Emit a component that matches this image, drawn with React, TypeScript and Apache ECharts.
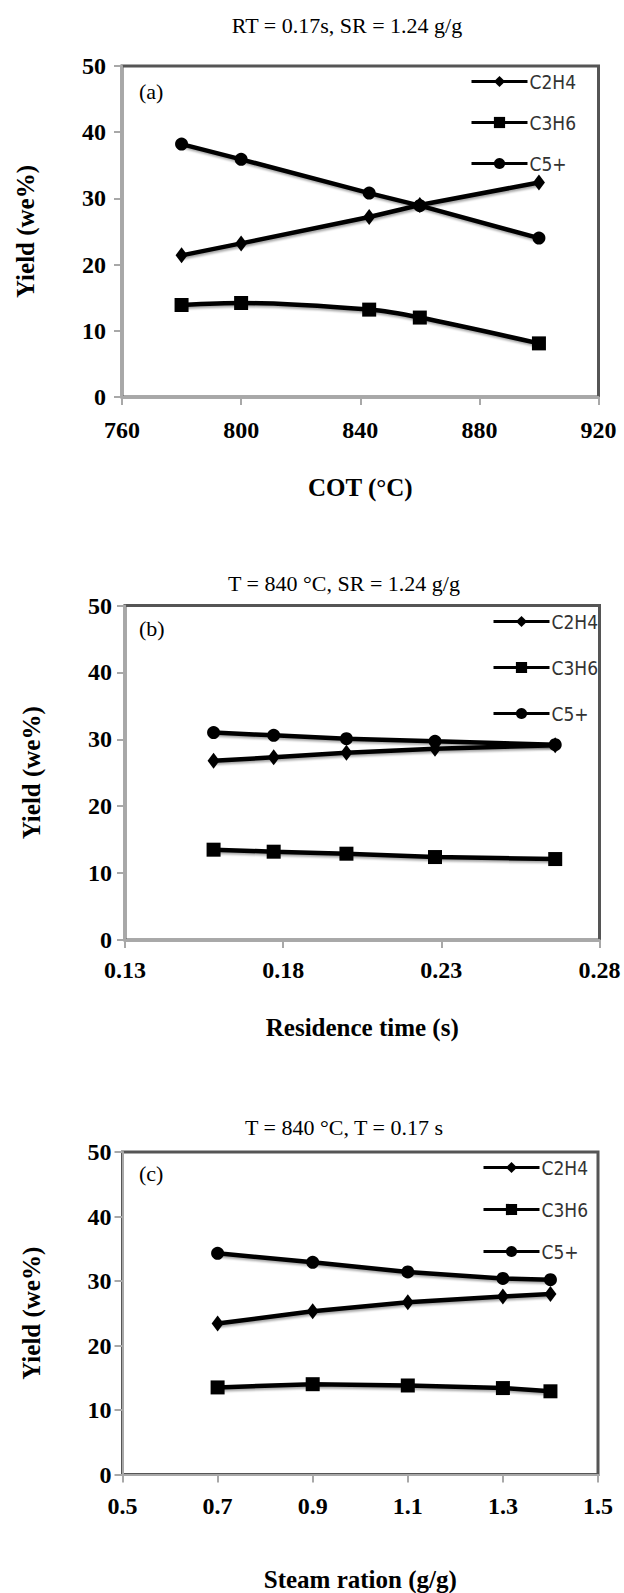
import React, { useEffect, useRef } from "react";
import * as echarts from "echarts";

// ---- Panel (a): COT ----
const cotX = [780, 800, 843, 860, 900];
const cotC2H4 = [21.4, 23.2, 27.2, 29.0, 32.4];
const cotC3H6 = [13.9, 14.2, 13.2, 12.0, 8.1];
const cotC5 = [38.2, 35.9, 30.8, 28.9, 24.0];

// ---- Panel (b): residence time ----
const rtX = [0.158, 0.177, 0.2, 0.228, 0.266];
const rtC2H4 = [26.8, 27.3, 28.0, 28.6, 29.1];
const rtC3H6 = [13.5, 13.2, 12.9, 12.4, 12.1];
const rtC5 = [31.0, 30.6, 30.1, 29.7, 29.2];

// ---- Panel (c): steam ratio ----
const srX = [0.7, 0.9, 1.1, 1.3, 1.4];
const srC2H4 = [23.4, 25.3, 26.7, 27.6, 28.0];
const srC3H6 = [13.5, 14.0, 13.8, 13.4, 12.9];
const srC5 = [34.3, 32.9, 31.4, 30.4, 30.2];

const seriesNames = ["C2H4", "C3H6", "C5+"];
const titles = [
  "RT = 0.17s, SR = 1.24 g/g",
  "T = 840 °C, SR = 1.24 g/g",
  "T = 840 °C, T = 0.17 s",
];
const panelLabels = ["(a)", "(b)", "(c)"];
const xNames = ["COT (°C)", "Residence time (s)", "Steam ration (g/g)"];
const yName = "Yield (we%)";

const SERIF = '"Liberation Serif", "Times New Roman", serif';

const grids = [
  { left: 122, top: 66, width: 476.5, height: 331 },
  { left: 125, top: 605.5, width: 474.5, height: 334.5 },
  { left: 122.5, top: 1152, width: 475.5, height: 325 },
];
const xAxisCfg = [
  { min: 760, max: 920, interval: 40, margin: 21, nameGap: 77.5, dec: 0 },
  { min: 0.13, max: 0.28, interval: 0.05, margin: 18, nameGap: 74.5, dec: 2 },
  { min: 0.5, max: 1.5, interval: 0.2, margin: 19, nameGap: 92.5, dec: 1 },
];
const yCfg = [
  { margin: 16, nameGap: 84.5 },
  { margin: 13, nameGap: 81.5 },
  { margin: 11, nameGap: 79 },
];
const legendCfg = [
  { left: 470, top: 72, gap: 22 },
  { left: 492, top: 612, gap: 27 },
  { left: 482, top: 1158, gap: 23 },
];
const titlePos = [
  { x: 347, y: 25 },
  { x: 344, y: 583 },
  { x: 344, y: 1127 },
];
const labelPos = [
  { x: 139, y: 91 },
  { x: 139, y: 628 },
  { x: 139, y: 1173 },
];

const panelData = [
  { x: cotX, ys: [cotC2H4, cotC3H6, cotC5] },
  { x: rtX, ys: [rtC2H4, rtC3H6, rtC5] },
  { x: srX, ys: [srC2H4, srC3H6, srC5] },
];

const symbols = ["diamond", "rect", "circle"];
const symbolSizes: any[] = [[12, 16], 14, 13];

export default function App() {
  const ref = useRef<HTMLDivElement>(null);
  useEffect(() => {
    document.body.style.margin = "0";
    document.body.style.overflow = "hidden";
    if (!ref.current) return;
    const chart = echarts.init(ref.current, null, { renderer: "svg" });

    const series: any[] = [];
    panelData.forEach((p, gi) => {
      p.ys.forEach((ys, si) => {
        series.push({
          type: "line",
          name: seriesNames[si],
          xAxisIndex: gi,
          yAxisIndex: gi,
          data: p.x.map((xv, i) => [xv, ys[i]]),
          symbol: symbols[si],
          symbolSize: symbolSizes[si],
          smooth: gi === 0 && si === 1 ? 0.3 : false,
          color: "#000",
          lineStyle: {
            color: "#000",
            width: 4.5,
            shadowColor: "rgba(0,0,0,0.35)",
            shadowOffsetX: 1,
            shadowOffsetY: 2,
            shadowBlur: 2,
          },
          itemStyle: { color: "#000" },
          z: 3,
        });
      });
    });

    const graphic: any[] = [];
    titles.forEach((t, i) => {
      graphic.push({
        type: "text",
        x: titlePos[i].x,
        y: titlePos[i].y,
        style: {
          text: t,
          fontFamily: SERIF,
          fontSize: 22,
          fill: "#000",
          align: "center",
          verticalAlign: "middle",
        },
      });
      graphic.push({
        type: "text",
        x: labelPos[i].x,
        y: labelPos[i].y,
        z: 10,
        style: {
          text: panelLabels[i],
          fontFamily: SERIF,
          fontSize: 22,
          fill: "#000",
          align: "left",
          verticalAlign: "middle",
        },
      });
    });

    const option: any = {
      animation: false,
      backgroundColor: "#fff",
      grid: grids.map((g) => ({
        ...g,
        show: true,
        borderColor: "#555",
        borderWidth: 3,
        backgroundColor: "transparent",
        containLabel: false,
      })),
      xAxis: xAxisCfg.map((c, i) => ({
        type: "value",
        gridIndex: i,
        min: c.min,
        max: c.max,
        interval: c.interval,
        name: xNames[i],
        nameLocation: "middle",
        nameGap: c.nameGap,
        nameTextStyle: {
          fontFamily: SERIF,
          fontWeight: "bold",
          fontSize: 25,
          color: "#000",
          verticalAlign: "top",
        },
        axisLine: { show: true, onZero: false, lineStyle: { color: "#a8a8a8", width: 2 } },
        axisTick: { show: true, inside: false, length: 8, lineStyle: { color: "#a8a8a8", width: 2 } },
        splitLine: { show: false },
        axisLabel: {
          margin: c.margin,
          fontFamily: SERIF,
          fontWeight: "bold",
          fontSize: 24,
          color: "#000",
          formatter: (v: number) => v.toFixed(c.dec),
        },
      })),
      yAxis: yCfg.map((c, i) => ({
        type: "value",
        gridIndex: i,
        min: 0,
        max: 50,
        interval: 10,
        name: yName,
        nameLocation: "middle",
        nameGap: c.nameGap,
        nameRotate: 90,
        nameTextStyle: {
          fontFamily: SERIF,
          fontWeight: "bold",
          fontSize: 25,
          color: "#000",
        },
        axisLine: { show: true, onZero: false, lineStyle: { color: "#a8a8a8", width: 2 } },
        axisTick: { show: true, inside: false, length: 8, lineStyle: { color: "#a8a8a8", width: 2 } },
        splitLine: { show: false },
        axisLabel: {
          margin: c.margin,
          fontFamily: SERIF,
          fontWeight: "bold",
          fontSize: 24,
          color: "#000",
        },
      })),
      legend: legendCfg.map((l) => ({
        orient: "vertical",
        left: l.left,
        top: l.top,
        itemWidth: 56,
        itemHeight: 14,
        itemGap: l.gap,
        padding: 0,
        selectedMode: false,
        data: seriesNames,
        lineStyle: { width: 3, shadowBlur: 0, shadowOffsetX: 0, shadowOffsetY: 0 },
        textStyle: {
          fontFamily: '"DejaVu Sans Condensed", "Liberation Sans Narrow", "Liberation Sans", sans-serif',
          fontSize: 19,
          color: "#333",
          padding: [0, 0, 0, -3],
        },
      })),
      graphic,
      series,
    };
    chart.setOption(option);
    return () => chart.dispose();
  }, []);
  return <div ref={ref} style={{ width: 624, height: 1593 }} />;
}
